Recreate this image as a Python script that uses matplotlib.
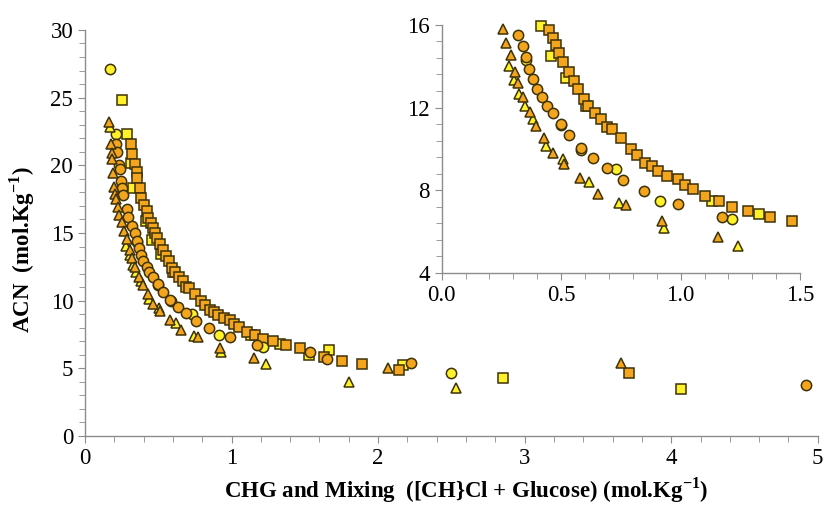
import matplotlib.pyplot as plt
from matplotlib.ticker import MultipleLocator

plt.rcParams['font.family'] = ['Liberation Serif', 'DejaVu Serif']
plt.rcParams['mathtext.fontset'] = 'custom'
plt.rcParams['mathtext.rm'] = 'Liberation Serif'
plt.rcParams['mathtext.bf'] = 'Liberation Serif:bold'

# Datos: cuadrados, círculos y triángulos (CHG en amarillo, mezcla en naranja)
sq_chg_x = [0.254, 0.288, 0.311, 0.329, 0.414, 0.456, 0.519, 0.603, 1.130, 1.330, 1.526, 1.662, 2.17, 2.85, 4.07]
sq_chg_y = [24.8, 22.3, 20.2, 18.35, 15.92, 14.47, 13.45, 12.08, 7.49, 6.83, 5.99, 6.36, 5.25, 4.31, 3.45]

sq_mix_x = [0.311, 0.324, 0.340, 0.352, 0.356, 0.374, 0.385, 0.404, 0.420, 0.427,
            0.451, 0.465, 0.479, 0.493, 0.509, 0.533, 0.554, 0.571, 0.596, 0.614,
            0.640, 0.667, 0.691, 0.712, 0.749, 0.791, 0.819, 0.851, 0.879, 0.907,
            0.945, 0.987, 1.019, 1.053, 1.102, 1.161, 1.214, 1.284, 1.372, 1.465,
            1.633, 1.757, 1.889, 2.14, 3.712]
sq_mix_y = [21.6, 20.8, 20.1, 19.5, 19.05, 18.3, 17.55, 17.1, 16.6, 16.1,
            15.76, 15.36, 15.03, 14.63, 14.18, 13.74, 13.29, 12.90, 12.42, 12.08,
            11.72, 11.43, 11.04, 10.95, 10.51, 9.98, 9.70, 9.33, 9.19, 8.93,
            8.70, 8.54, 8.28, 8.05, 7.72, 7.49, 7.20, 6.99, 6.71, 6.50,
            5.82, 5.54, 5.32, 4.88, 4.63]

ci_chg_x = [0.170, 0.209, 0.355, 0.500, 0.585, 0.730, 0.914, 1.214, 2.50]
ci_chg_y = [27.1, 22.3, 14.30, 11.15, 9.95, 9.01, 7.49, 6.60, 4.63]

ci_mix_x = [0.211, 0.215, 0.234, 0.236, 0.243, 0.249, 0.261, 0.288, 0.295,
            0.321, 0.339, 0.353, 0.366, 0.384, 0.398, 0.421, 0.440, 0.467, 0.498,
            0.533, 0.583, 0.635, 0.691, 0.758, 0.847, 0.991, 1.175,
            1.535, 1.650, 2.227, 4.92]
ci_mix_y = [21.6, 21.0, 20.0, 19.7, 18.85, 18.3, 17.8, 16.8, 16.2,
            15.52, 15.0, 14.44, 13.87, 13.39, 12.90, 12.50, 12.08, 11.72, 11.21,
            10.67, 10.03, 9.54, 9.06, 8.49, 7.96, 7.33, 6.71,
            6.23, 5.70, 5.42, 3.77]

tr_chg_x = [0.168, 0.283, 0.304, 0.325, 0.349, 0.381, 0.437, 0.506, 0.618, 0.742, 0.931, 1.238, 1.803, 2.533]
tr_chg_y = [22.8, 14.02, 13.34, 12.64, 12.08, 11.45, 10.14, 9.49, 8.38, 7.39, 6.18, 5.31, 4.01, 3.57]

tr_mix_x = [0.163, 0.180, 0.182, 0.186, 0.190, 0.200, 0.205, 0.212, 0.222, 0.235,
            0.255, 0.269, 0.289, 0.307, 0.321, 0.342, 0.370, 0.395, 0.428, 0.467,
            0.513, 0.579, 0.656, 0.772, 0.921, 1.155, 2.07, 3.655]
tr_mix_y = [23.2, 21.6, 20.9, 20.5, 19.4, 18.4, 17.9, 17.5, 16.9, 16.3,
            15.81, 15.11, 14.52, 13.71, 13.18, 12.50, 11.77, 11.12, 10.51, 9.78,
            9.27, 8.60, 7.84, 7.28, 6.50, 5.74, 5.05, 5.37]

amarillo = '#FFF22A'
naranja = '#F3A51E'
borde = '#3d3208'
gris = '#8c8c8c'

series = [
    (sq_chg_x, sq_chg_y, 's', amarillo, 7.0),
    (sq_mix_x, sq_mix_y, 's', naranja, 7.0),
    (ci_chg_x, ci_chg_y, 'o', amarillo, 7.4),
    (ci_mix_x, ci_mix_y, 'o', naranja, 7.4),
    (tr_chg_x, tr_chg_y, '^', amarillo, 7.6),
    (tr_mix_x, tr_mix_y, '^', naranja, 7.6),
]


def dibujar(ax, xmax, ymax, recortar):
    for xs, ys, m, c, ms in series:
        pts = [(x, y) for x, y in zip(xs, ys) if x <= xmax and y <= ymax]
        ax.plot([p[0] for p in pts], [p[1] for p in pts], linestyle='none',
                marker=m, markersize=ms, markerfacecolor=c,
                markeredgecolor=borde, markeredgewidth=1.1, clip_on=recortar)
    for lado in ['top', 'right']:
        ax.spines[lado].set_visible(False)
    for lado in ['left', 'bottom']:
        ax.spines[lado].set_color(gris)
        ax.spines[lado].set_linewidth(1.0)
    ax.tick_params(which='both', direction='out', color=gris, labelsize=16.5)
    ax.tick_params(which='major', length=5)
    ax.tick_params(which='minor', length=4)


fig = plt.figure(figsize=(8.27, 5.07), dpi=100)

# Gráfica principal
ax = fig.add_axes([0.1028, 0.140, 0.886, 0.801])
dibujar(ax, 5, 30, True)
ax.set_xlim(0, 5)
ax.set_ylim(0, 30)
ax.xaxis.set_major_locator(MultipleLocator(1))
ax.xaxis.set_minor_locator(MultipleLocator(0.2))
ax.yaxis.set_major_locator(MultipleLocator(5))
ax.yaxis.set_minor_locator(MultipleLocator(1))
ax.set_xlabel(r'CHG and Mixing  ([CH}Cl + Glucose) (mol.Kg$^{\mathbf{-1}}$)',
              fontsize=16.5, fontweight='bold')
ax.set_ylabel(r'ACN  (mol.Kg$^{\mathbf{-1}}$)', fontsize=16.5, fontweight='bold')
ax.xaxis.set_label_coords(0.52, -0.098)
ax.yaxis.set_label_coords(-0.066, 0.46)

# Detalle ampliado (0-1.5, 4-16)
axi = fig.add_axes([0.534, 0.4615, 0.4335, 0.4895])
dibujar(axi, 1.5, 16.0, False)
axi.patch.set_alpha(0)
axi.set_xlim(0, 1.5)
axi.set_ylim(4, 16)
axi.xaxis.set_major_locator(MultipleLocator(0.5))
axi.xaxis.set_minor_locator(MultipleLocator(0.1))
axi.yaxis.set_major_locator(MultipleLocator(4))
axi.yaxis.set_minor_locator(MultipleLocator(0.8))
axi.xaxis.set_major_formatter('{x:.1f}')

fig.savefig('out.png', dpi=100)
